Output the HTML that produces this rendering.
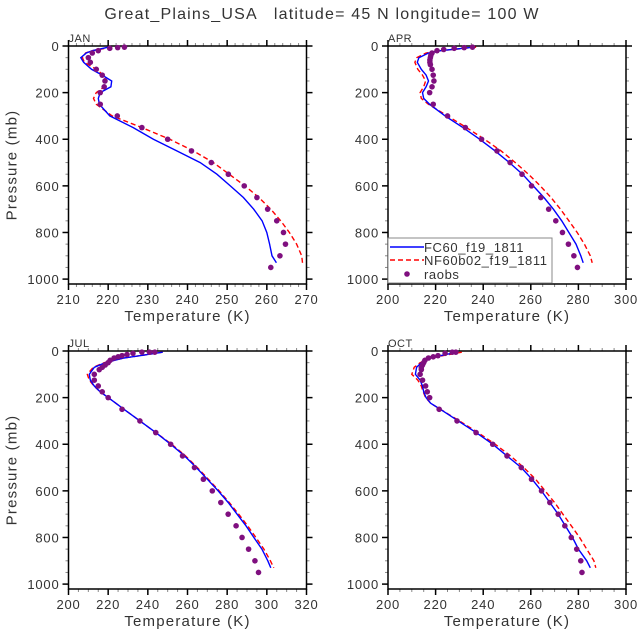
<!DOCTYPE html>
<html><head><meta charset="utf-8">
<style>
body{margin:0;background:#fff;}
svg{display:block;font-family:"Liberation Sans",sans-serif;}
</style></head>
<body>
<svg id="chart" width="643" height="640" viewBox="0 0 643 640" xmlns="http://www.w3.org/2000/svg">
<text x="322" y="19" font-size="16" letter-spacing="1.2" fill="#333" text-anchor="middle" xml:space="preserve">Great_Plains_USA   latitude= 45 N longitude= 100 W</text>
</svg>
<script>
// ---- DATA ----
const lineP = [5,20,30,50,70,100,125,150,175,200,225,250,300,350,400,450,500,550,600,650,700,750,800,850,900,930];
const janBlue = [220,216,214.5,213.1,213.8,215.8,218.5,220.9,220.7,218,217.5,217.8,220.4,226.3,231.4,237.3,243.2,247.4,250.8,254.1,256.7,258.8,260,260.7,261.3,262.4];
const janRed = [221,216,214.3,213.5,214,217,218.8,219.5,219,217,216.3,217,221,228.5,235.5,241.5,246.5,250.5,254.5,258,261,263.5,265.7,267.5,268.8,269];
const janObsP = [5,7,10,20,30,50,70,100,125,150,175,200,250,300,350,400,450,500,550,600,650,700,750,800,850,900,950];
const janObs = [224.1,222.4,220.4,217.5,216,215,215.5,217,218.5,219.2,219,218,218,222.3,228.5,235,241,246,250.3,254.3,257.5,260.2,262.5,264.2,264.7,263.3,261];
const aprBlue = [236,222,217,213,212.3,214,216,217,216,214.5,215,217.5,224,231.5,238.5,245,251,256.5,261,265.5,269.5,273,276,279,281,282];
const aprRed = [237,222,216,212,211.3,212.5,214.5,215.8,215,213.5,214,217,225,233,240.5,247.5,253.5,259,264,268.5,272.5,276,279.5,282.5,285,285.8];
const aprObsP = [5,7,10,15,20,30,40,50,60,70,80,100,125,150,175,200,250,300,350,400,450,500,550,600,650,700,750,800,850,900,950];
const aprObs = [235.5,232,227.8,223.4,220.6,218.5,218,217.8,217.6,217.6,217.8,218.5,219,219.3,218.5,217.5,219,225,232.5,239.3,245.8,251.3,256.3,260.3,264.2,267.5,270.5,273.3,275.8,278.1,279.6];
const julBlue = [247.5,236,228,218.5,213,210.5,211,213,216,220,224,228,236,244,251.5,258.5,264.5,270,275.5,280.5,285,289.5,293.5,297.5,300.5,302];
const julRed = [247.5,236,228,218,212.5,209.5,210.5,212.8,216,220,224,228,236,244,252,259,265,270.5,276,281,285.8,290.3,294.5,298.5,301.8,303.5];
const julObsP = [5,5,5,10,15,20,25,30,40,50,60,70,80,100,125,150,175,200,250,300,350,400,450,500,550,600,650,700,750,800,850,900,950];
const julObs = [243.5,240.8,237,232.5,229.5,227,225,223,221,220,218.5,217,215.5,213,213,215,217,220,227,236,244,251.5,257.5,263.5,268,272.5,276.8,280.5,284.5,287.5,290.8,294,295.8];
const octBlue = [229,222,218,214,212,211.5,213.5,214.5,215,216,218,222,229.5,237,244,250,256,260.5,264.5,268,271.5,274.5,277.5,280,283.5,285];
const octRed = [231,223,218,213.5,211,210,212.5,214,214.8,215.8,218,222,230,237.8,245,251.5,257,262,266,270,273.5,277,280.5,283.5,286.5,287.3];
const octObsP = [5,5,10,20,25,30,40,50,60,70,80,100,125,150,175,200,250,300,350,400,450,500,550,600,650,700,750,800,850,900,950];
const octObs = [228.5,227,224,221,219,217,215.5,215,214.5,214,214,213.5,214.5,215.8,216.5,217.5,221.5,229,237,244,250,256,260.3,264.5,268,271.5,274.3,277,279.3,281,281.5];
const yTicks = [0,200,400,600,800,1000];
const janXTicks = [210,220,230,240,250,260,270];
const aprXTicks = [200,220,240,260,280,300];
const julXTicks = [200,220,240,260,280,300,320];
const octXTicks = [200,220,240,260,280,300];

const NS = "http://www.w3.org/2000/svg";
const svg = document.getElementById('chart');
function mk(tag, attrs, parent){const e=document.createElementNS(NS,tag);for(const k in attrs)e.setAttribute(k,attrs[k]);(parent||svg).appendChild(e);return e;}

function panel(cfg){
  const g = mk('g',{});
  
  
  const L=cfg.x0,R=cfg.x1,T=cfg.y0,B=T+238;
  const xs=t=>L+(t-cfg.tmin)/(cfg.tmax-cfg.tmin)*(R-L);
  const ys=p=>T+p/1021*(B-T);
  for(let t=cfg.tmin;t<=cfg.tmax+1e-6;t+=cfg.minor){
    const x=xs(t);
    mk('line',{x1:x,x2:x,y1:B,y2:B+3,stroke:'#888','stroke-width':1},g);
    mk('line',{x1:x,x2:x,y1:T,y2:T-3,stroke:'#888','stroke-width':1},g);
  }
  for(let p=0;p<=1000;p+=50){
    const y=ys(p);
    mk('line',{x1:L,x2:L-3,y1:y,y2:y,stroke:'#888','stroke-width':1},g);
    mk('line',{x1:R,x2:R+3,y1:y,y2:y,stroke:'#888','stroke-width':1},g);
  }
  cfg.xt.forEach(t=>{
    const x=xs(t);
    mk('line',{x1:x,x2:x,y1:B,y2:B+6,stroke:'#000','stroke-width':1.5},g);
    mk('line',{x1:x,x2:x,y1:T,y2:T-6,stroke:'#000','stroke-width':1.5},g);
    const tx=mk('text',{x:x,y:B+20,'font-size':13,'letter-spacing':0.8,fill:'#333','text-anchor':'middle'},g);
    
    
    tx.textContent=t;
  });
  yTicks.forEach(p=>{
    const y=ys(p);
    mk('line',{x1:L,x2:L-6,y1:y,y2:y,stroke:'#000','stroke-width':1.5},g);
    mk('line',{x1:R,x2:R+6,y1:y,y2:y,stroke:'#000','stroke-width':1.5},g);
    const tx=mk('text',{x:L-9,y:y+5,'font-size':13,'letter-spacing':0.8,fill:'#333','text-anchor':'end'},g);
    
    
    tx.textContent=p;
  });
  mk('rect',{x:L,y:T,width:R-L,height:B-T,fill:'none',stroke:'#000','stroke-width':1.5},g);
  const lab=mk('text',{x:L,y:T-4,'font-size':11,'letter-spacing':0.5,fill:'#333'},g);
  
  
  lab.textContent=cfg.label;
  const xt=mk('text',{x:(L+R)/2,y:B+37,'font-size':15,'letter-spacing':1.2,fill:'#333','text-anchor':'middle'},g);
  
  
  xt.textContent='Temperature (K)';
  if(cfg.ytitle){
    const yt=mk('text',{x:0,y:0,'font-size':15,'letter-spacing':1.2,fill:'#333','text-anchor':'middle',transform:`translate(${L-52},${(T+B)/2}) rotate(-90)`},g);
    
    
    yt.textContent='Pressure (mb)';
  }
  const pts=arr=>arr.map((t,i)=>xs(t).toFixed(1)+','+ys(lineP[i]).toFixed(1)).join(' ');
  const rl=mk('polyline',{points:pts(cfg.red),fill:'none',stroke:'#f00','stroke-width':1.4,'stroke-dasharray':'5,3'},g);
  
  
  const bl=mk('polyline',{points:pts(cfg.blue),fill:'none',stroke:'#00f','stroke-width':1.4},g);
  
  
  cfg.obs.forEach((t,i)=>{
    const c=mk('circle',{cx:xs(t),cy:ys(cfg.obsP[i]),r:2.8,fill:'#7f0f7f'},g);
    
    
  });
}
panel({key:'jan',label:'JAN',x0:68.5,x1:306.5,y0:46,tmin:210,tmax:270,minor:2,xt:janXTicks,blue:janBlue,red:janRed,obs:janObs,obsP:janObsP,ytitle:true});
panel({key:'apr',label:'APR',x0:388,x1:626,y0:46,tmin:200,tmax:300,minor:5,xt:aprXTicks,blue:aprBlue,red:aprRed,obs:aprObs,obsP:aprObsP,ytitle:false});
panel({key:'jul',label:'JUL',x0:68.5,x1:306.5,y0:351,tmin:200,tmax:320,minor:5,xt:julXTicks,blue:julBlue,red:julRed,obs:julObs,obsP:julObsP,ytitle:true});
panel({key:'oct',label:'OCT',x0:388,x1:626,y0:351,tmin:200,tmax:300,minor:5,xt:octXTicks,blue:octBlue,red:octRed,obs:octObs,obsP:octObsP,ytitle:false});

const lg=mk('g',{});


mk('rect',{x:388,y:238,width:164,height:45,fill:'#fff',stroke:'#888','stroke-width':1},lg);
mk('line',{x1:390,x2:424,y1:247,y2:247,stroke:'#00f','stroke-width':1.4},lg);
mk('line',{x1:390,x2:424,y1:260,y2:260,stroke:'#f00','stroke-width':1.4,'stroke-dasharray':'5,3'},lg);
mk('circle',{cx:407,cy:274,r:2.8,fill:'#7f0f7f'},lg);
[['FC60_f19_1811',252,'legend-entry-fc60'],['NF60b02_f19_1811',265,'legend-entry-nf60b02'],['raobs',279,'legend-entry-raobs']].forEach(e=>{
  const t=mk('text',{x:424,y:e[1],'font-size':13,'letter-spacing':0.6,fill:'#333'},lg);
  
  
  t.textContent=e[0];
});
</script>
</body></html>
